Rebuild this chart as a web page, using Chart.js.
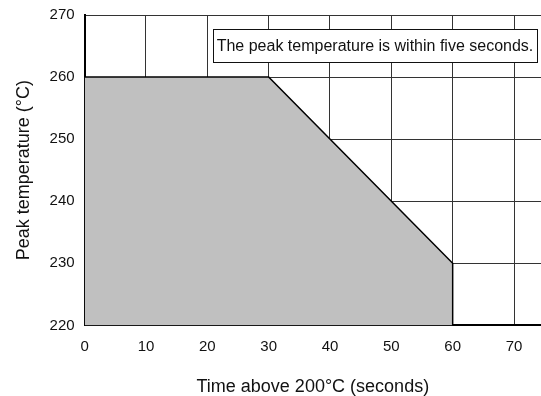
<!DOCTYPE html>
<html>
<head>
<meta charset="utf-8">
<script src="https://cdn.jsdelivr.net/npm/chart.js@4/dist/chart.umd.min.js"></script>
<style>
  html, body { margin: 0; padding: 0; background: #fff; }
  #wrap { width: 541px; height: 396px; }
</style>
</head>
<body>
<div id="wrap"><canvas id="myChart"></canvas></div>
<script>
// Datos del perfil (tiempo sobre 200°C vs temperatura pico)
const tiempos = [0, 30, 60, 60];
const temperaturas = [260, 260, 230, 220];
const ticksX = [0, 10, 20, 30, 40, 50, 60, 70];
const ticksY = [220, 230, 240, 250, 260, 270];
const nota = 'The peak temperature is within five seconds.';

const fuente = 'Arial, "Liberation Sans", sans-serif';

// Plugin para el recuadro de texto
const notaPlugin = {
  id: 'nota',
  afterDatasetsDraw(chart) {
    const ctx = chart.ctx;
    const x = chart.scales.x, y = chart.scales.y;
    const left = Math.round(x.getPixelForValue(21));
    const top = Math.round(y.getPixelForValue(267.7));
    const right = Math.round(chart.chartArea.right - 4);
    const bottom = Math.round(y.getPixelForValue(262.5));
    ctx.save();
    ctx.fillStyle = '#fff';
    ctx.fillRect(left, top, right - left, bottom - top);
    ctx.strokeStyle = '#111';
    ctx.lineWidth = 1;
    ctx.strokeRect(left + 0.5, top + 0.5, right - left, bottom - top);
    ctx.fillStyle = '#111';
    ctx.font = '16px ' + fuente;
    ctx.textBaseline = 'middle';
    ctx.textAlign = 'center';
    ctx.fillText(nota, (left + right) / 2, (top + bottom) / 2 + 1);
    ctx.restore();
  }
};

const ctx = document.getElementById('myChart').getContext('2d');

const myChart = new Chart(ctx, {
  type: 'scatter',
  data: {
    datasets: [{
      data: tiempos.map((t, i) => ({ x: t, y: temperaturas[i] })),
      showLine: true,
      fill: 'start',
      backgroundColor: '#c0c0c0',
      borderColor: '#000',
      borderWidth: 1.5,
      pointRadius: 0,
      tension: 0
    }]
  },
  options: {
    responsive: true,
    maintainAspectRatio: false,
    animation: false,
    layout: { padding: { top: 15, right: 0, left: 3, bottom: 0 } },
    plugins: {
      legend: { display: false },
      tooltip: { enabled: false }
    },
    scales: {
      x: {
        type: 'linear',
        min: 0,
        max: 74.4,
        afterBuildTicks: (scale) => { scale.ticks = ticksX.map(v => ({ value: v })); },
        ticks: {
          includeBounds: false,
          color: '#111',
          font: { size: 15, family: fuente },
          padding: 12
        },
        grid: { color: '#333', lineWidth: 1, drawTicks: false },
        border: { color: '#000', width: 2 },
        title: {
          display: true,
          text: 'Time above 200°C (seconds)',
          color: '#111',
          font: { size: 18, family: fuente },
          padding: { top: 9, bottom: -2 }
        }
      },
      y: {
        type: 'linear',
        min: 220,
        max: 270,
        afterBuildTicks: (scale) => { scale.ticks = ticksY.map(v => ({ value: v })); },
        ticks: {
          color: '#111',
          font: { size: 15, family: fuente, lineHeight: 0.5 },
          padding: 10
        },
        grid: { color: '#333', lineWidth: 1, drawTicks: false },
        border: { color: '#000', width: 2 },
        title: {
          display: true,
          text: 'Peak temperature (°C)',
          color: '#111',
          font: { size: 18, family: fuente },
          padding: { top: 10, bottom: 5 }
        }
      }
    }
  },
  plugins: [notaPlugin]
});
</script>
</body>
</html>
